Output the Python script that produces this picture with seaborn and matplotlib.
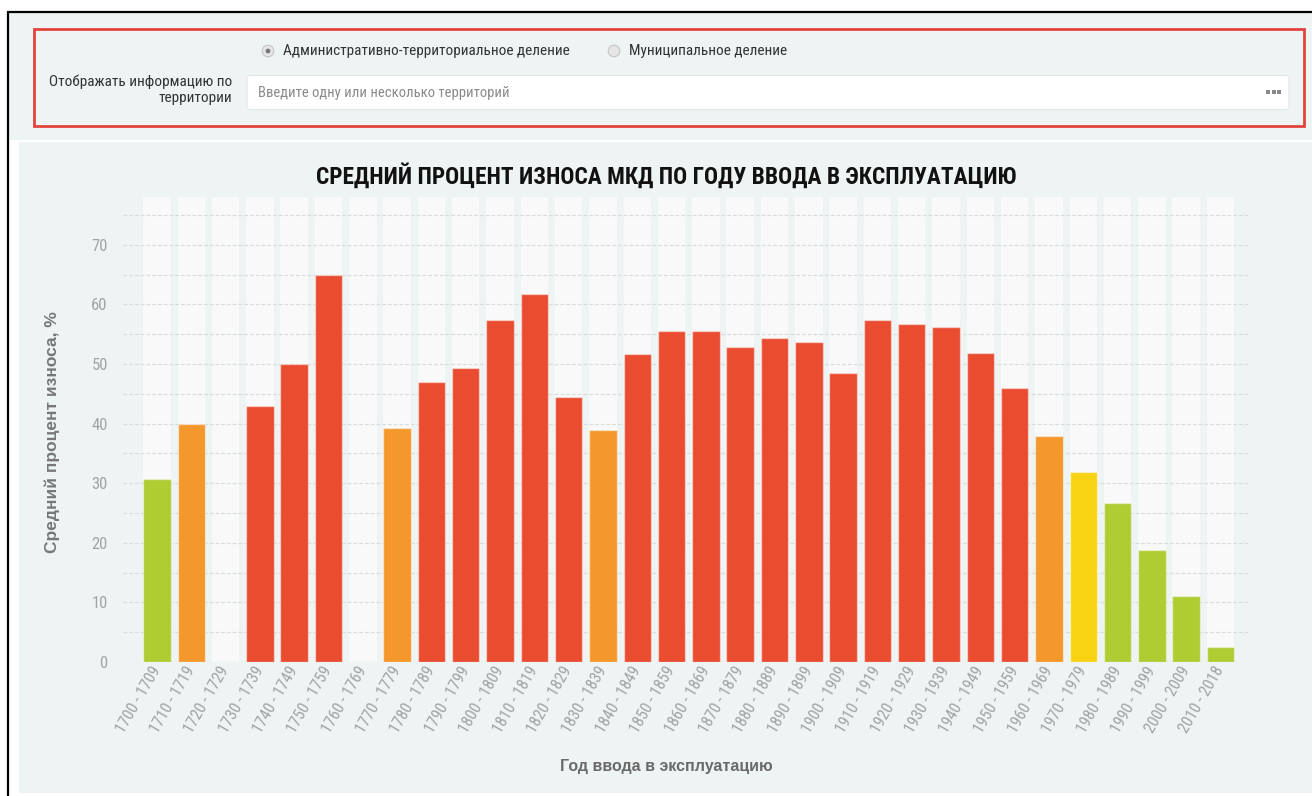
import numpy as np
import pandas as pd
import matplotlib
matplotlib.use("Agg")
import matplotlib.pyplot as plt
import seaborn as sns
from matplotlib import font_manager
from matplotlib.patches import Rectangle, FancyBboxPatch, Circle

# ---- data -------------------------------------------------------------
periods = [
    "1700 - 1709", "1710 - 1719", "1720 - 1729", "1730 - 1739", "1740 - 1749",
    "1750 - 1759", "1760 - 1769", "1770 - 1779", "1780 - 1789", "1790 - 1799",
    "1800 - 1809", "1810 - 1819", "1820 - 1829", "1830 - 1839", "1840 - 1849",
    "1850 - 1859", "1860 - 1869", "1870 - 1879", "1880 - 1889", "1890 - 1899",
    "1900 - 1909", "1910 - 1919", "1920 - 1929", "1930 - 1939", "1940 - 1949",
    "1950 - 1959", "1960 - 1969", "1970 - 1979", "1980 - 1989", "1990 - 1999",
    "2000 - 2009", "2010 - 2018",
]
wear = [
    30.7, 40.0, 0.0, 43.0, 50.0,
    65.0, 0.0, 39.2, 47.0, 49.4,
    57.3, 61.8, 44.5, 39.0, 51.7,
    55.5, 55.5, 52.8, 54.4, 53.7,
    48.4, 57.4, 56.7, 56.2, 51.9,
    46.0, 37.9, 31.9, 26.6, 18.8,
    11.0, 2.5,
]
y_ticks = [0, 10, 20, 30, 40, 50, 60, 70]

title = "СРЕДНИЙ ПРОЦЕНТ ИЗНОСА МКД ПО ГОДУ ВВОДА В ЭКСПЛУАТАЦИЮ"
y_title = "Средний процент износа, %"
x_title = "Год ввода в эксплуатацию"
radio_labels = ["Административно-территориальное деление", "Муниципальное деление"]
filter_label = "Отображать информацию по\nтерритории"
filter_placeholder = "Введите одну или несколько территорий"

# ---- style ------------------------------------------------------------
BG = "#EEF4F4"
RED, ORANGE, YELLOW, GREEN = "#E94C2F", "#F4972D", "#F8D313", "#ADCD33"
Y_TOP = 78


def wear_color(v):
    if v <= 31:
        return GREEN
    if v <= 35:
        return YELLOW
    if v <= 40:
        return ORANGE
    return RED


sns.set_theme(style="white")
names = {f.name for f in font_manager.fontManager.ttflist}
COND = next((n for n in ["Roboto Condensed", "Liberation Sans Narrow"] if n in names), "Roboto")
REG = "Liberation Sans" if "Liberation Sans" in names else "DejaVu Sans"
plt.rcParams["font.family"] = [COND, "DejaVu Sans"]

W, H = 1312, 796
fig = plt.figure(figsize=(W / 100, H / 100), dpi=100, facecolor="white")

# page layer in pixel coordinates
ui = fig.add_axes([0, 0, 1, 1], zorder=0)
ui.set_xlim(0, W)
ui.set_ylim(H, 0)
ui.axis("off")

ui.add_patch(Rectangle((9, 13), W - 9, 127, facecolor=BG, edgecolor="none"))
ui.add_patch(Rectangle((19, 142), W - 19, 651, facecolor=BG, edgecolor="none"))
ui.plot([7, W], [11.5, 11.5], color="black", lw=1.6, solid_capstyle="butt")
ui.plot([7.5, 7.5], [11, H], color="black", lw=1.6, solid_capstyle="butt")

# filter panel
ui.add_patch(Rectangle((34, 28.5), 1270, 97, facecolor="none", edgecolor="#E2443D", lw=2.0))
for cx, label, selected in [(268, radio_labels[0], True), (614, radio_labels[1], False)]:
    ui.add_patch(Circle((cx, 51), 5.8, facecolor="#E6E6E6", edgecolor="#C4C4C4", lw=0.8))
    if selected:
        ui.add_patch(Circle((cx, 51), 2.4, facecolor="#777777", edgecolor="none"))
    ui.text(cx + 15, 51, label, ha="left", va="center", fontsize=11, color="#333333")
ui.text(232, 90, filter_label, ha="right", va="center", multialignment="right",
        fontsize=11, color="#333333", linespacing=1.15)
ui.add_patch(FancyBboxPatch((247, 75.5), 1042, 34, boxstyle="round,pad=0,rounding_size=3",
                            facecolor="white", edgecolor="#E3E6E6", lw=0.8))
ui.text(258, 93, filter_placeholder, ha="left", va="center", fontsize=10.5, color="#8A8A8A")
for dx in (0, 5.5, 11):
    ui.add_patch(Rectangle((1266 + dx, 90), 4, 4, facecolor="#888888", edgecolor="none"))

# chart title and axis titles
ui.text(666, 176, title, ha="center", va="center", fontsize=16.8, fontweight="bold", color="#111111")
ui.text(52, 432, y_title, ha="center", va="center", rotation=90, fontsize=12.5,
        fontweight="bold", color="#777777", family=[REG, "DejaVu Sans"])
ui.text(666, 767, x_title, ha="center", va="center", fontsize=11.5,
        fontweight="bold", color="#6A6A6A", family=[REG, "DejaVu Sans"])

# ---- bar chart --------------------------------------------------------
ax = fig.add_axes([123 / W, (H - 662) / H, 1127 / W, (662 - 197) / H], zorder=2)
ax.set_facecolor("none")

df = pd.DataFrame({"period": periods, "wear": wear})
palette = {p: wear_color(v) for p, v in zip(periods, wear)}

sns.barplot(data=df.assign(band=Y_TOP), x="period", y="band", order=periods,
            color="#F9F9F9", saturation=1, width=0.8, linewidth=0, zorder=0.2, ax=ax)
sns.barplot(data=df, x="period", y="wear", order=periods, hue="period", palette=palette,
            legend=False, saturation=1, width=0.8, edgecolor=(1, 1, 1, 0.45),
            linewidth=1, zorder=2, ax=ax)

ax.set_xlim(-0.99, 31.86)
ax.set_ylim(0, Y_TOP)
ax.set_yticks(y_ticks)
ax.set_yticks(np.arange(5, 80, 10), minor=True)
ax.set_axisbelow(True)
ax.yaxis.grid(True, which="both", color="#D9DCDC", linestyle=(0, (3, 1.6)), linewidth=0.9)
ax.xaxis.grid(False)
ax.tick_params(axis="y", which="both", length=0, pad=11, labelsize=12, labelcolor="#A3A3A3")
ax.tick_params(axis="x", length=0, pad=4, labelsize=11.5, labelcolor="#A3A3A3")
plt.setp(ax.get_xticklabels(), rotation=60, ha="right", va="center", rotation_mode="anchor")
for s in ax.spines.values():
    s.set_visible(False)
ax.set_xlabel("")
ax.set_ylabel("")

fig.savefig("out.png", dpi=100, facecolor="white")
